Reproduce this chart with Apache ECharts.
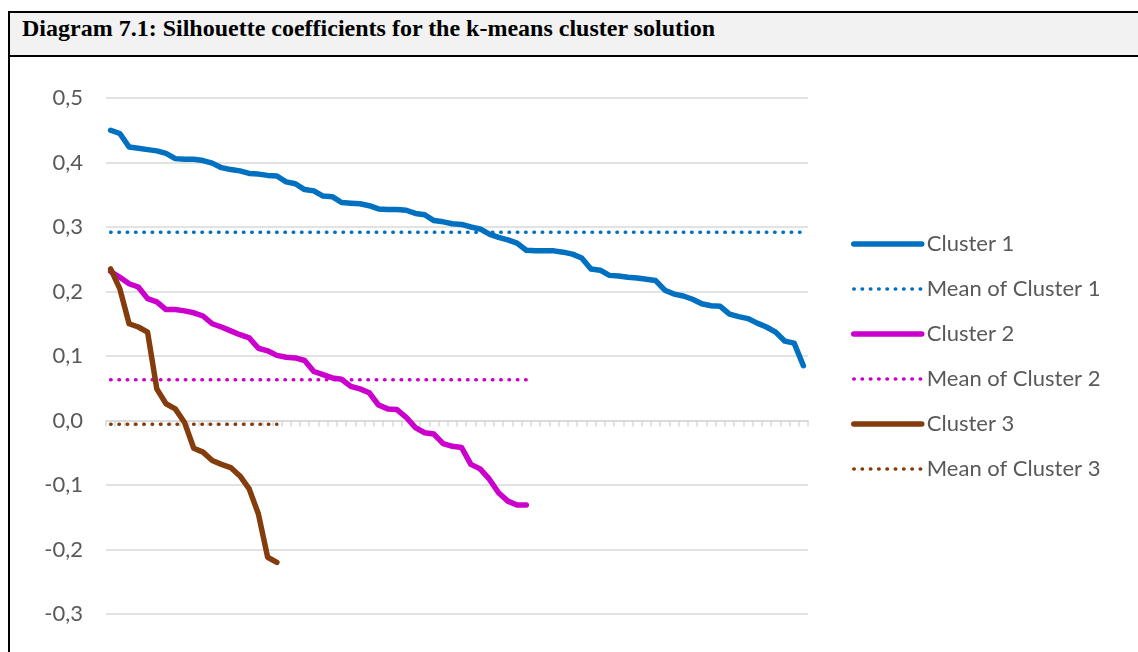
<!DOCTYPE html>
<html>
<head>
<meta charset="utf-8">
<script src="https://cdn.jsdelivr.net/npm/echarts@6/dist/echarts.min.js"></script>
<style>
  html, body { margin: 0; padding: 0; background: #fff; }
  .frame {
    position: absolute; left: 8px; top: 11px; width: 1140px; height: 660px;
    border-left: 2px solid #000; border-top: 2px solid #000;
  }
  .header {
    position: absolute; left: 10px; top: 13px; width: 1130px; height: 42px;
    background: #f2f2f2; border-bottom: 2px solid #000; z-index: 2;
  }
  .header span {
    position: absolute; left: 12px; top: 3px;
    font-family: "Liberation Serif", serif; font-weight: bold; font-size: 24px; line-height: 24px;
    color: #000; white-space: nowrap;
  }
  #chart { position: absolute; left: 0; top: 0; width: 1138px; height: 652px; }
</style>
</head>
<body>
<div class="frame"></div>
<div class="header"><span>Diagram 7.1: Silhouette coefficients for the k-means cluster solution</span></div>
<div id="chart"></div>
<script>
// silhouette values, sorted descending per cluster
const cluster1 = [0.450, 0.445, 0.424, 0.422, 0.420, 0.418, 0.414, 0.406, 0.405, 0.405,
  0.403, 0.399, 0.392, 0.389, 0.387, 0.383, 0.382, 0.380, 0.379, 0.370,
  0.367, 0.358, 0.356, 0.348, 0.347, 0.338, 0.337, 0.336, 0.333, 0.328,
  0.327, 0.327, 0.326, 0.321, 0.319, 0.310, 0.308, 0.305, 0.304, 0.300,
  0.297, 0.289, 0.284, 0.280, 0.275, 0.264, 0.263, 0.263, 0.263, 0.261,
  0.258, 0.252, 0.235, 0.233, 0.225, 0.224, 0.222, 0.221, 0.219, 0.217,
  0.202, 0.196, 0.193, 0.188, 0.181, 0.178, 0.177, 0.165, 0.161, 0.158,
  0.151, 0.145, 0.137, 0.123, 0.120, 0.085]
const cluster2 = [0.231, 0.222, 0.212, 0.207, 0.189, 0.184, 0.172, 0.172, 0.170, 0.167,
  0.162, 0.150, 0.145, 0.139, 0.133, 0.128, 0.112, 0.108, 0.101, 0.098,
  0.097, 0.093, 0.076, 0.071, 0.066, 0.064, 0.053, 0.049, 0.043, 0.024,
  0.018, 0.017, 0.005, -0.011, -0.019, -0.021, -0.036, -0.040, -0.042, -0.068,
  -0.075, -0.091, -0.112, -0.125, -0.131, -0.131]
const cluster3 = [0.235, 0.204, 0.150, 0.145, 0.137, 0.049, 0.026, 0.018, -0.003, -0.043,
  -0.049, -0.062, -0.068, -0.073, -0.086, -0.106, -0.145, -0.212, -0.220]
const clusterMeans = [0.292, 0.063, -0.006]
const seriesNames = ['Cluster 1', 'Mean of Cluster 1', 'Cluster 2', 'Mean of Cluster 2', 'Cluster 3', 'Mean of Cluster 3']
const colors = ['#0070c0', '#cc00cc', '#843c0c']

const categories = cluster1.map((v, i) => String(i + 1))
const clusters = [cluster1, cluster2, cluster3]

const labelFont = 'Lato, "Open Sans", sans-serif'
const dotDash = [0.5, 7.8]
const solidStyle = { width: 5.5, cap: 'round', join: 'round' }
const dotStyle = { width: 3.5, type: dotDash, cap: 'round' }

const series = []
clusters.forEach((vals, k) => {
  series.push({
    name: seriesNames[k * 2],
    type: 'line',
    data: vals,
    symbol: 'none',
    silent: true,
    lineStyle: Object.assign({ color: colors[k] }, solidStyle),
    itemStyle: { color: colors[k] }
  })
  series.push({
    name: seriesNames[k * 2 + 1],
    type: 'line',
    data: vals.map(() => clusterMeans[k]),
    symbol: 'none',
    silent: true,
    lineStyle: Object.assign({ color: colors[k] }, dotStyle),
    itemStyle: { color: colors[k] }
  })
})

const chart = echarts.init(document.getElementById('chart'))
chart.setOption({
  animation: false,
  grid: { left: 106, right: 330, top: 98, bottom: 38 },
  legend: {
    orient: 'vertical',
    left: 851,
    top: 232,
    padding: 0,
    itemWidth: 68,
    itemHeight: 10,
    itemGap: 21,
    itemStyle: { opacity: 0 },
    data: seriesNames.map((n, i) => ({
      name: n,
      lineStyle: i % 2 === 0 ? solidStyle : dotStyle
    })),
    textStyle: { fontFamily: labelFont, fontSize: 22, color: '#595959', lineHeight: 24 }
  },
  xAxis: {
    type: 'category',
    data: categories,
    boundaryGap: true,
    axisLine: { onZero: true, lineStyle: { color: '#d9d9d9', width: 1.5 } },
    axisTick: { show: true, interval: 0, length: 6, lineStyle: { color: '#d9d9d9', width: 1.5 } },
    axisLabel: { show: false },
    splitLine: { show: false }
  },
  yAxis: {
    type: 'value',
    min: -0.3,
    max: 0.5,
    interval: 0.1,
    axisLine: { show: false },
    axisTick: { show: false },
    axisLabel: {
      margin: 23,
      fontFamily: labelFont,
      fontSize: 22,
      color: '#595959',
      formatter: v => v.toFixed(1).replace('.', ',')
    },
    splitLine: { lineStyle: { color: '#d9d9d9', width: 1.5 } }
  },
  series: series
})
</script>
</body>
</html>
